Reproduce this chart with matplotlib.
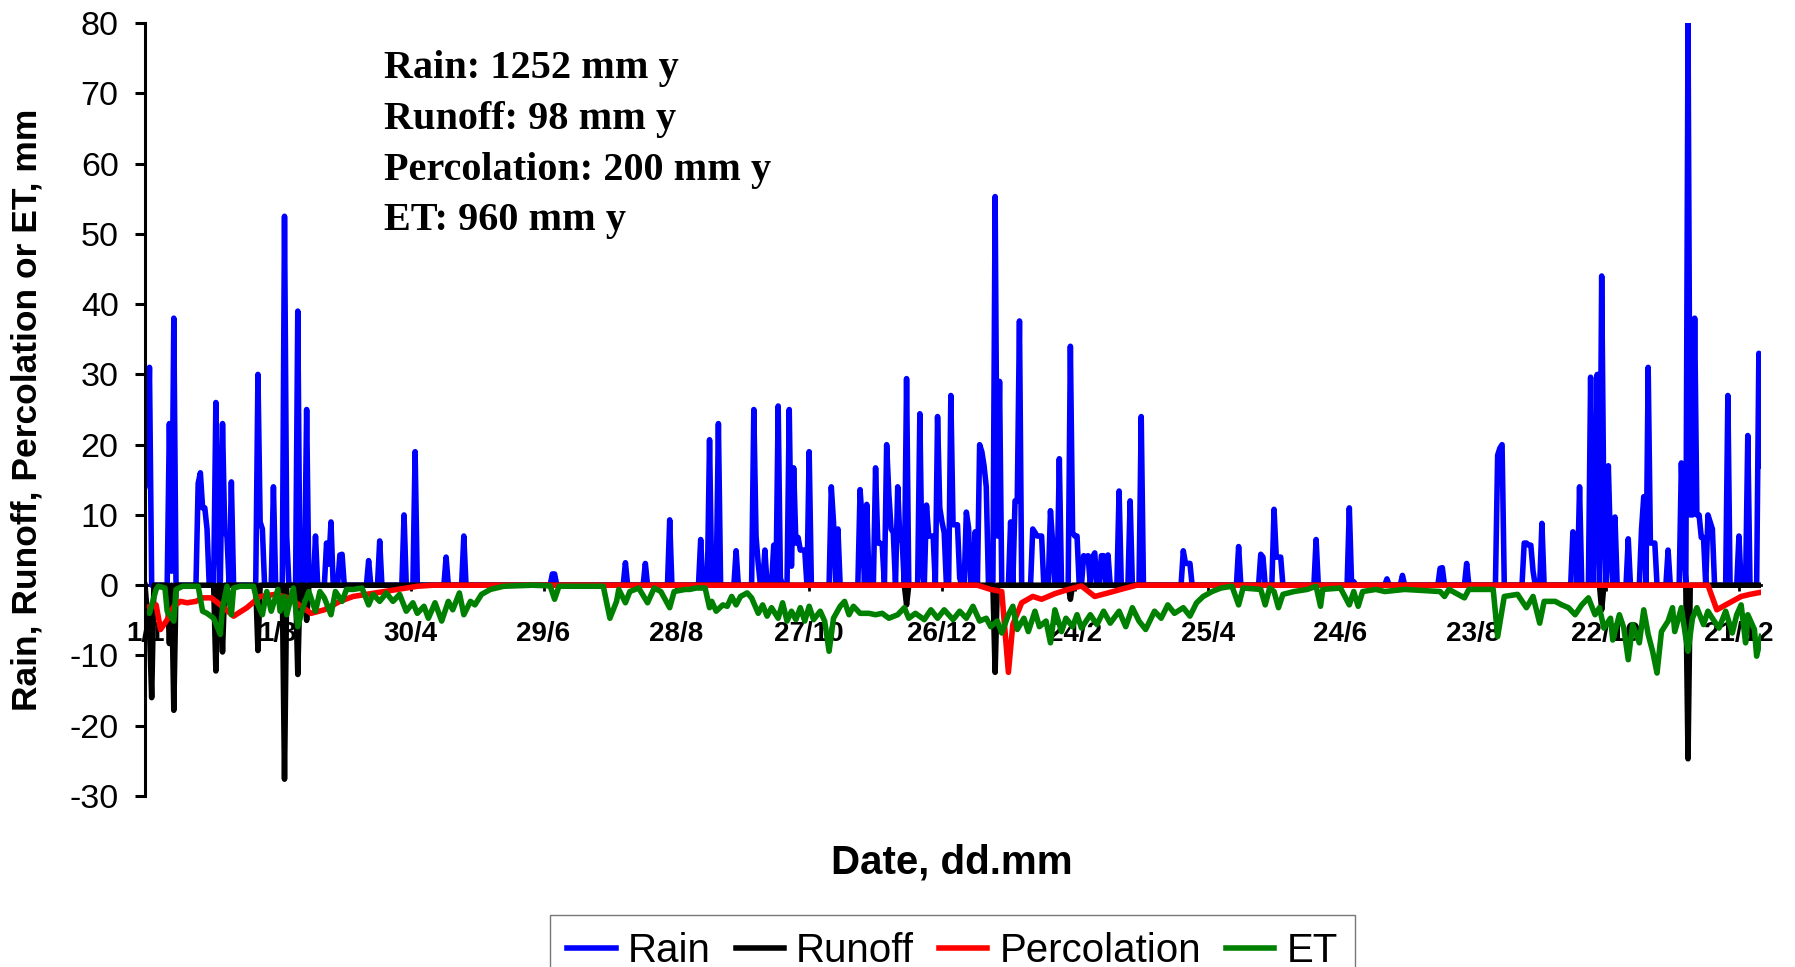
import numpy as np
import matplotlib
matplotlib.use("Agg")
import matplotlib.pyplot as plt

# daily water balance, 2 years (day 0 = 1/1 of year 1, leap year)
n_days = 731

# rain events (day, mm); all other days are 0
rain_day = [0, 1, 2, 11, 12, 13, 24, 25, 26, 27, 28, 32, 33, 35, 36, 37, 39,
            51, 52, 53, 58, 63, 64, 69, 73, 77, 82, 83, 84, 88, 89,
            101, 106, 117, 122, 136, 144, 184, 185, 217, 226, 237,
            251, 255, 259, 267, 275, 276, 277, 280, 284, 286, 287,
            291, 292, 293, 294, 295, 296, 297, 298, 300, 310, 311, 313,
            323, 324, 326, 327, 330, 331, 332, 333, 335, 336, 337, 338, 340, 341, 342, 344,
            350, 351, 353, 354, 355, 356, 358, 359, 360, 361, 364, 365, 366, 367, 368,
            371, 372, 375, 377, 378, 379, 380, 384, 385, 386,
            391, 393, 394, 395, 401, 402, 403, 404, 405,
            409, 410, 413, 418, 419, 420, 421, 424, 425, 426, 428, 429, 432, 433, 435,
            440, 445, 450, 469, 470, 471, 472,
            494, 504, 505, 510, 511, 512, 513, 529, 544, 545, 546,
            561, 568, 585, 586, 597, 611, 612, 613,
            623, 624, 625, 626, 627, 631, 645, 646, 648,
            653, 655, 656, 658, 659, 661, 662, 664,
            670, 676, 677, 679, 680, 681, 682,
            688, 694, 695, 697, 698, 699, 700, 701, 702, 703, 704, 706, 707, 708,
            715, 720, 724, 729, 730]
rain_mm = [14, 15, 31, 23, 2, 38, 14.5, 16, 11, 11, 8, 26, 8, 23, 7.5, 7, 14.7,
           30, 9, 8, 14, 52.5, 7, 39, 25, 7, 6, 3, 9, 4.3, 4.4,
           3.5, 6.3, 10, 19, 4, 7, 1.6, 1.6, 3.2, 3.1, 9.3,
           6.5, 20.7, 23, 4.9, 25, 7, 3, 5, 5.7, 25.5, 1,
           25, 2.7, 16.7, 6, 6.8, 5, 5, 5, 19, 14, 9, 8,
           13.6, 9, 11.5, 1, 16.7, 6, 6, 5.7, 20, 13, 8, 7.5, 14, 6.4, 6.4, 29.4,
           24.4, 2.4, 11.4, 7, 7, 7, 24, 11, 9, 7.5, 27, 8.6, 8.6, 8.6, 1,
           10.4, 8.2, 7.6, 20, 19, 17, 14, 55.3, 7, 29,
           9, 12, 12, 37.6, 8, 7.5, 7, 7, 7,
           10.6, 6, 18, 34, 7.5, 7, 7, 4.2, 4, 4.2, 4, 4.6, 4.2, 4.2, 4.3,
           13.4, 12, 24, 4.9, 3.1, 3.1, 3.1,
           5.5, 4.4, 4, 10.8, 4, 4, 4, 6.5, 11, 0.5, 0.5,
           0.9, 1.4, 2.4, 2.5, 3.1, 18.5, 19.5, 20,
           6, 6, 5.7, 5.7, 2, 8.8, 7.6, 6, 14,
           29.6, 10, 30, 44, 9.7, 17, 5.3, 9.7,
           6.6, 8, 12.6, 31, 6, 6, 6,
           5, 17.4, 6.4, 80, 10, 10, 38, 10, 10, 6.8, 6.8, 10, 9, 8,
           27, 7, 21.3, 33, 17]

# runoff events (plotted negative)
runoff_day = [1, 2, 3, 11, 13, 32, 35, 51, 63, 69, 73, 344, 384, 418, 658, 697]
runoff_mm = [-4, -6, -16, -8.3, -17.8, -12.2, -9.5, -9.3, -27.6, -12.7, -5,
             -2.8, -12.4, -2, -3.5, -24.7]

# percolation, read at the turning points
perc_day = [0, 5, 7, 10, 13, 16, 19, 23, 26, 30, 34, 40, 46, 52, 59, 65, 75, 81,
            88, 94, 104, 114, 123, 130,
            376, 382, 387, 390, 392, 396, 401, 405, 411, 417, 423, 429, 435, 443, 448,
            706, 710, 714, 721, 725, 730]
perc_mm = [-3.2, -2.8, -6.3, -4.9, -3.0, -2.3, -2.5, -2.3, -1.8, -1.8, -2.8, -4.4,
           -3.2, -1.6, -1.3, -1.8, -4.0, -3.5, -2.3, -1.6, -1.1, -0.6, -0.15, 0,
           0, -0.6, -0.9, -12.4, -5.6, -2.5, -1.6, -2.0, -1.2, -0.6, -0.1, -1.6,
           -1.1, -0.4, 0,
           0, -3.5, -2.8, -1.6, -1.3, -1.0]

# evapotranspiration, read every few days
et_day = [0, 2, 5, 6, 9, 10, 13, 14, 17, 24, 26, 28, 31, 34, 35, 37, 39, 40, 43,
          49, 51, 53, 55, 57, 60, 61, 63, 64, 67, 69, 72, 74, 77, 79, 81, 84, 86,
          89, 91, 94, 98, 101, 103, 106, 109, 112, 115, 118, 121, 123, 126, 128,
          131, 134, 137, 139, 142, 144, 147, 149, 152, 156, 162, 175, 183, 185,
          187, 207, 210, 213, 214, 217, 219, 223, 227, 230, 233, 237, 239, 244,
          246, 249, 253, 255, 256, 258, 261, 263, 265, 267, 269, 272, 274, 277,
          279, 281, 283, 286, 288, 290, 292, 294, 296, 298, 300, 302, 305, 307,
          309, 311, 314, 316, 318, 320, 323, 327, 330, 333, 336, 340, 343, 345,
          348, 352, 355, 358, 361, 365, 368, 371, 374, 377, 380, 382, 385, 387,
          390, 392, 394, 397, 399, 402, 404, 407, 409, 411, 414, 416, 419, 421,
          423, 427, 430, 433, 436, 440, 443, 446, 449, 452, 456, 459, 462, 465,
          469, 472, 475, 478, 482, 486, 491, 494, 496,
          504, 506, 508, 510, 512, 514, 519, 525, 529, 531, 532, 540, 544, 546,
          548, 550, 556, 560, 569, 585, 587, 589, 596, 598, 609, 611, 614, 620,
          624, 627, 630, 632, 637, 640, 643, 646, 649, 652, 655, 657, 659, 662,
          663, 666, 668, 670, 672, 675, 677, 679, 681, 683, 685, 688, 690, 691,
          694, 696, 697, 699, 701, 704, 706, 708, 711, 714, 717, 719, 721, 723,
          724, 727, 728, 730]
et_mm = [-3.7, -4.0, -0.6, -0.15, -0.4, -3.7, -5.1, -0.6, -0.15, -0.15, -3.7,
         -4.0, -4.7, -7.0, -3.2, -0.15, -4.2, -0.4, -0.15, -0.15, -2.8, -4.2,
         -0.9, -3.7, -0.6, -3.7, -1.6, -4.2, -0.4, -5.9, -2.5, -0.9, -3.7, -0.9,
         -1.8, -4.2, -0.9, -2.3, -0.6, -0.6, -0.4, -2.8, -1.3, -2.3, -1.1, -2.3,
         -1.3, -3.7, -2.5, -4.0, -3.0, -4.7, -2.5, -5.1, -2.3, -3.5, -1.1, -4.2,
         -2.3, -2.8, -1.3, -0.6, -0.15, 0, -0.1, -2.0, -0.15, -0.15, -4.7, -2.3,
         -0.6, -2.5, -0.9, -0.4, -2.5, -0.4, -0.9, -3.2, -0.9, -0.6,
         -0.6, -0.4, -0.4, -3.2, -2.3, -3.7, -2.8, -3.0, -1.6, -2.8, -1.6, -1.1,
         -1.8, -4.0, -2.8, -4.4, -3.2, -4.7, -2.5, -5.1, -3.7, -4.9, -3.2, -5.1,
         -3.0, -4.9, -3.7, -5.1, -9.4, -4.7, -3.0, -2.3, -4.2, -3.0, -4.0, -4.0,
         -4.2, -4.0, -4.7, -4.2, -3.2, -4.7, -4.0, -4.9, -3.5, -4.7, -3.5, -4.9,
         -3.7, -4.7, -3.0, -5.1, -4.7, -5.9, -5.1, -6.8, -4.2, -3.0, -6.3, -4.7,
         -6.6, -3.7, -5.9, -5.1, -8.2, -3.5, -6.6, -4.7, -5.9, -4.2, -6.1, -4.2,
         -5.6, -3.7, -5.4, -3.7, -5.9, -3.2, -5.1, -6.3, -3.7, -4.7, -2.8, -4.0,
         -3.2, -4.4, -2.5, -1.6, -0.9, -0.4, -0.15, -2.8, -0.4,
         -0.6, -2.8, -0.4, -0.9, -3.2, -1.3, -0.9, -0.6, -0.15, -3.0, -0.6, -0.4,
         -2.8, -0.9, -3.0, -0.9, -0.6, -0.9, -0.6, -0.9, -1.6, -0.6, -1.8, -0.6,
         -0.6, -7.3, -1.6, -1.3, -3.2, -1.6, -5.4, -2.3, -2.3, -2.8, -3.2, -4.2,
         -2.8, -1.8, -4.2, -3.2, -6.1, -4.7, -7.8, -4.2, -6.1, -10.6, -5.6, -8.2,
         -3.5, -7.0, -9.4, -12.5, -6.6, -5.1, -3.2, -6.6, -3.2, -7.5, -9.4, -4.7,
         -3.2, -5.6, -3.7, -4.7, -6.1, -3.7, -6.8, -4.2, -2.8, -8.2, -4.2, -6.3,
         -10.1, -7.3]

tick_day = [0, 60, 120, 180, 240, 300, 360, 420, 480, 540, 600, 660, 720]
tick_lab = ["1/1", "1/3", "30/4", "29/6", "28/8", "27/10", "26/12",
            "24/2", "25/4", "24/6", "23/8", "22/10", "21/12"]

summary = ["Rain: 1252 mm y", "Runoff: 98 mm y",
           "Percolation: 200 mm y", "ET: 960 mm y"]

days = np.arange(n_days)
rain = np.zeros(n_days)
rain[rain_day] = rain_mm
runoff = np.zeros(n_days)
runoff[runoff_day] = runoff_mm

plt.rcParams["font.family"] = ["Liberation Sans", "DejaVu Sans"]
plt.rcParams["axes.unicode_minus"] = False

fig = plt.figure(figsize=(17.95, 9.67), dpi=100)
ax = fig.add_axes([0.0808, 0.1768, 0.9003, 0.7994])

# x axis sits on zero, only left/bottom spines (set before ticks)
ax.spines["top"].set_visible(False)
ax.spines["right"].set_visible(False)
ax.spines["bottom"].set_position(("data", 0))
ax.spines["bottom"].set_linewidth(2)
ax.spines["left"].set_linewidth(2.2)
ax.spines["bottom"].set_zorder(0)

lw = 4.0
ax.plot(days, rain, color="#0000ff", lw=lw, label="Rain")
ax.plot(days, runoff, color="black", lw=lw, label="Runoff")
ax.plot(perc_day, perc_mm, color="#ff0000", lw=lw, label="Percolation")
ax.plot(et_day, et_mm, color="#008000", lw=lw, label="ET")

ax.set_xlim(0, 730)
ax.set_ylim(-30, 80)
ax.set_yticks(np.arange(-30, 81, 10))
ax.set_xticks(tick_day)
ax.set_xticklabels(tick_lab)
ax.tick_params(axis="y", direction="out", length=7, width=2.2, pad=12, labelsize=24.5)
ax.tick_params(axis="x", direction="out", length=4, width=2, pad=22, labelsize=20)
for t in ax.get_xticklabels():
    t.set_fontweight("bold")

for i, s in enumerate(summary):
    ax.text(0.1476, [0.9412, 0.8755, 0.8092, 0.744][i], s, transform=ax.transAxes,
            va="center", ha="left", fontsize=29, fontweight="bold",
            family=["Liberation Serif", "DejaVu Serif"])

fig.text(0.0153, 0.576, "Rain, Runoff, Percolation or ET, mm", rotation=90,
         ha="center", va="center", fontsize=25.5, fontweight="bold")
fig.text(0.5304, 0.1085, "Date, dd.mm", ha="center", va="center",
         fontsize=29, fontweight="bold")

leg = fig.legend(loc="upper center", bbox_to_anchor=(0.5306, 0.0537), ncol=4,
                 fontsize=29, frameon=True, fancybox=False, handlelength=1.2,
                 handletextpad=0.3, columnspacing=0.62, borderpad=0.42,
                 borderaxespad=0)
leg.get_frame().set_edgecolor("#555555")
leg.get_frame().set_linewidth(1)

fig.savefig("out.png", dpi=100)
